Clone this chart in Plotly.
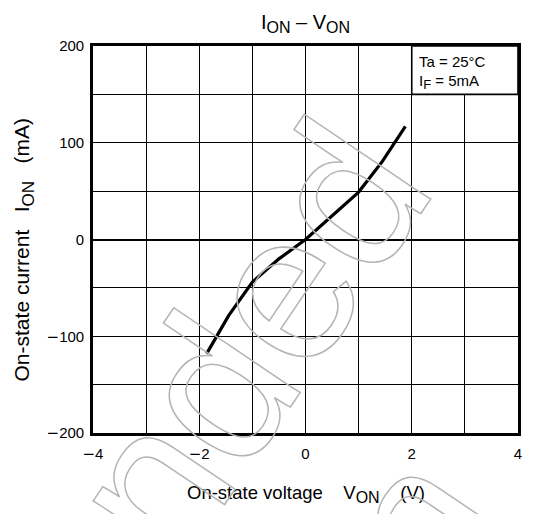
import plotly.graph_objects as go

# ---- data ----
v_on = [-1.86, -1.45, -1.0, -0.5, 0.0, 0.5, 1.0, 1.45, 1.88]
i_on = [-118, -79, -44, -20, 0, 25, 49, 81, 117]

x_range = [-4, 4]
y_range = [-200, 200]
MINUS = "<span style='font-family:DejaVu Sans'>\u2212</span>"
x_tickvals = [-4, -2, 0, 2, 4]
x_ticktext = [MINUS + "4", MINUS + "2", "0", "2", "4"]
y_tickvals = [-200, -100, 0, 100, 200]
y_ticktext = [MINUS + "200", MINUS + "100", "0", "100", "200"]

SP = "\u00a0"
title_text = ("I<sub><span style='font-size:16px'>ON</span></sub> – "
              "V<sub><span style='font-size:16px'>ON</span></sub>")
x_title = ("On-state voltage" + SP * 4 + "V<sub><span style='font-size:16px'>ON</span></sub>"
           + SP * 4 + "(V)")
y_title = ("On-state current" + SP * 3 + "I<sub><span style='font-size:17px'>ON</span></sub>"
           + SP * 3 + "(mA)")
cond_lines = ["Ta = 25°C", "I<sub><span style='font-size:13px'>F</span></sub> = 5mA"]
watermark_lines = ["Not Recommended", "for New Design"]

FONT = "Arial, 'Liberation Sans', Helvetica, sans-serif"

fig = go.Figure()
fig.add_trace(go.Scatter(
    x=v_on, y=i_on, mode="lines",
    line=dict(color="black", width=3.2),
    hoverinfo="skip", showlegend=False,
))

axis_common = dict(
    showgrid=True, gridcolor="black", gridwidth=1.2,
    showline=True, linecolor="black", linewidth=2.6, mirror=True,
    ticks="", tickfont=dict(family=FONT, size=15, color="black"),
    fixedrange=True, tickmode="array",
)

fig.update_layout(
    width=534, height=514,
    margin=dict(l=93, r=14, t=46, b=81),
    paper_bgcolor="white", plot_bgcolor="white",
    font=dict(family=FONT, color="black"),
    title=dict(text=title_text, x=0.5, xref="paper", xanchor="center",
               y=1 - 22 / 514, yref="container", yanchor="middle",
               font=dict(size=20, family=FONT, color="black")),
    xaxis=dict(range=x_range, tickvals=x_tickvals, ticktext=x_ticktext, zeroline=False,
               minor=dict(tickmode="linear", tick0=0, dtick=1, showgrid=True,
                          gridcolor="black", gridwidth=1.2),
               ticklabelstandoff=5, **axis_common),
    yaxis=dict(range=y_range, tickvals=y_tickvals, ticktext=y_ticktext, zeroline=True,
               zerolinecolor="black", zerolinewidth=2.2,
               minor=dict(tickmode="linear", tick0=0, dtick=50, showgrid=True,
                          gridcolor="black", gridwidth=1.2),
               ticklabelstandoff=3, **axis_common),
)

# condition box
fig.add_shape(type="rect", xref="x", yref="y", x0=2, x1=4, y0=150, y1=200,
              fillcolor="white", line=dict(color="black", width=1.6), layer="above")
fig.add_annotation(text=cond_lines[0], xref="x", yref="y", x=2.1, y=184,
                   xanchor="left", yanchor="middle", showarrow=False,
                   font=dict(size=15, family=FONT, color="black"))
fig.add_annotation(text=cond_lines[1], xref="x", yref="y", x=2.1, y=163,
                   xanchor="left", yanchor="middle", showarrow=False,
                   font=dict(size=15, family=FONT, color="black"))

# axis titles
fig.add_annotation(text=x_title, xref="paper", yref="paper", x=0.5, y=-0.158,
                   xanchor="center", yanchor="middle", showarrow=False,
                   font=dict(size=18.5, family=FONT, color="black"))
fig.add_annotation(text=y_title, xref="paper", yref="paper", x=-0.164, y=0.475,
                   xanchor="center", yanchor="middle", showarrow=False, textangle=-90,
                   font=dict(size=21, family=FONT, color="black"))

# outlined watermark
fig.add_annotation(text=watermark_lines[0], xref="paper", yref="paper", x=-0.52, y=-1.20,
                   xanchor="center", yanchor="middle", showarrow=False, textangle=-56,
                   font=dict(size=210, family=FONT, color="rgb(185,185,185)"))
fig.add_annotation(text=watermark_lines[1], xref="paper", yref="paper", x=-0.112, y=-1.65,
                   xanchor="center", yanchor="middle", showarrow=False, textangle=-56,
                   font=dict(size=210, family=FONT, color="rgb(185,185,185)"))

post = """
document.documentElement.style.margin = '0';
document.documentElement.style.overflow = 'hidden';
document.body.style.margin = '0';
document.body.style.padding = '0';
document.body.style.overflow = 'hidden';
var gd = document.getElementById('{plot_id}');
function wm(){
  gd.querySelectorAll('text.annotation-text').forEach(function(t){
    if ((t.getAttribute('style')||'').indexOf('210px') >= 0){
      t.style.fill = 'none';
      t.style.stroke = 'rgb(180,180,180)';
      t.style.strokeWidth = '1.5px';
    }
  });
}
wm();
gd.on('plotly_afterplot', wm);
"""

fig.write_html("out.html", post_script=post, config=dict(displayModeBar=False))
